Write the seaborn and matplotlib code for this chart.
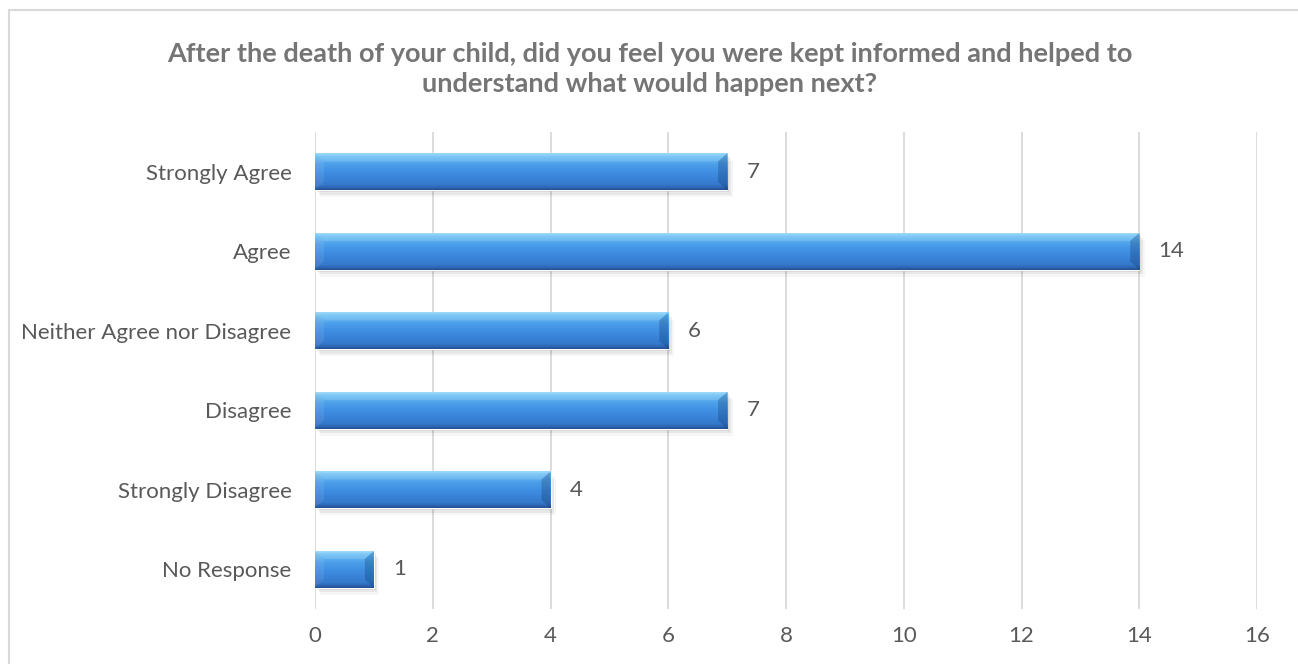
import numpy as np
import pandas as pd
import matplotlib
matplotlib.use("Agg")
import matplotlib.pyplot as plt
from matplotlib.patches import Rectangle, Polygon
from matplotlib.lines import Line2D
from matplotlib.colors import LinearSegmentedColormap
import seaborn as sns

categories = ["Strongly Agree", "Agree", "Neither Agree nor Disagree",
              "Disagree", "Strongly Disagree", "No Response"]
values = [7, 14, 6, 7, 4, 1]
x_ticks = [0, 2, 4, 6, 8, 10, 12, 14, 16]
title = ("After the death of your child, did you feel you were kept informed and helped to\n"
         "understand what would happen next?")

sns.set_theme(style="white")
plt.rcParams["font.family"] = ["Lato", "DejaVu Sans"]

df = pd.DataFrame({"category": categories, "count": values})

fig = plt.figure(figsize=(12.98, 6.64), dpi=100)
ax = fig.add_axes([315 / 1298, 1 - 609 / 664, (1257 - 315) / 1298, (609 - 132) / 664])

sns.barplot(data=df, x="count", y="category", orient="h", color="#3C8BE0",
            width=0.46, ax=ax, zorder=3, saturation=1)

ax.set_xlim(0, 16)
ax.set_xticks(x_ticks)
ax.set_xticklabels([str(t) for t in x_ticks])
ax.grid(axis="x", color="#D9D9D9", linewidth=1.3, zorder=0)
ax.set_axisbelow(True)
for s in ax.spines.values():
    s.set_visible(False)
ax.set_xlabel("")
ax.set_ylabel("")
ax.tick_params(axis="both", length=0, labelsize=16, labelcolor="#595959")
ax.tick_params(axis="y", pad=17)
ax.tick_params(axis="x", pad=12)

grad_cmap = LinearSegmentedColormap.from_list(
    "bar", [(0.0, "#9AD6FA"), (0.07, "#70C4F6"), (0.3, "#4C9FEA"),
            (0.55, "#3D8CE1"), (0.86, "#3478CB"), (0.93, "#2D66B2"), (1.0, "#21508F")])
grad = np.linspace(0, 1, 256).reshape(-1, 1)

dx = 9 / ((1257 - 315) / 16)
dy = 8 / 79.5
sx = 3 / ((1257 - 315) / 16)
sy = 4 / 79.5

for p, v in zip(ax.patches, values):
    x0, y0 = p.get_x(), p.get_y()
    w, h = p.get_width(), p.get_height()
    for k, a in enumerate([0.09, 0.06, 0.035]):
        ax.add_patch(Rectangle((x0 + sx * (k + 1) * 0.6, y0 + sy * (k + 1) * 0.6), w, h,
                               facecolor="black", alpha=a, edgecolor="none", zorder=2))
    im = ax.imshow(grad, cmap=grad_cmap, aspect="auto",
                   extent=(x0, x0 + w, y0 + h, y0), zorder=4, interpolation="bilinear")
    im.set_clip_path(p)
    top, bot = y0, y0 + h
    ax.add_patch(Polygon([(x0, top), (x0 + dx, top + dy), (x0 + dx, bot - dy), (x0, bot)],
                         closed=True, facecolor="white", alpha=0.08, edgecolor="none", zorder=5))
    ax.add_patch(Polygon([(x0 + w, top), (x0 + w - dx, top + dy), (x0 + w - dx, bot - dy), (x0 + w, bot)],
                         closed=True, facecolor="#0A2A5A", alpha=0.25, edgecolor="none", zorder=5))
    ax.add_patch(Polygon([(x0, top), (x0 + w, top), (x0 + w - dx, top + dy), (x0 + dx, top + dy)],
                         closed=True, facecolor="white", alpha=0.12, edgecolor="none", zorder=5))
    ax.text(x0 + w + 0.33, y0 + h / 2, str(v), va="center", ha="left",
            fontsize=16, color="#595959", zorder=6)

ax.set_ylim(5.5, -0.5)

fig.text(650 / 1298, 1 - 69 / 664, title, ha="center", va="center", fontsize=19.5,
         fontweight="bold", color="#757575", linespacing=1.25)

fig.add_artist(Line2D([8.5 / 1298, 8.5 / 1298], [0, 1 - 9.5 / 664], transform=fig.transFigure,
                      color="#D9D9D9", linewidth=1.5))
fig.add_artist(Line2D([8.5 / 1298, 1], [1 - 9.5 / 664, 1 - 9.5 / 664], transform=fig.transFigure,
                      color="#D9D9D9", linewidth=1.5))

fig.savefig("out.png", dpi=100, facecolor="white")
